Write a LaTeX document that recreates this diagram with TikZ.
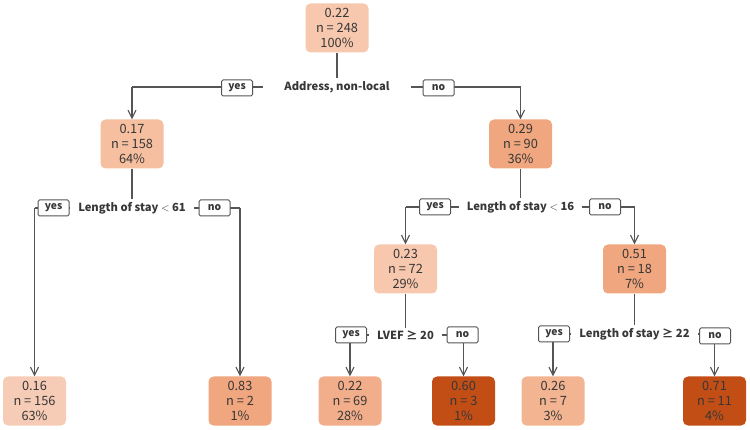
\documentclass[tikz,border=0pt]{standalone}
\usepackage{fontspec}
\usepackage{tikz}
\usepackage{xcolor}
\usetikzlibrary{arrows.meta, positioning, backgrounds}
\newfontfamily\jpfont{Noto Sans CJK JP}
\definecolor{textgray}{RGB}{55,55,55}
\definecolor{linegray}{RGB}{85,85,85}
\definecolor{pA}{RGB}{247,200,174}
\definecolor{pB}{RGB}{245,191,160}
\definecolor{pC}{RGB}{240,166,126}
\definecolor{pD}{RGB}{242,174,138}
\definecolor{pE}{RGB}{243,180,146}
\definecolor{pF}{RGB}{247,204,182}
\definecolor{pDark}{RGB}{194,78,22}

\begin{document}
\begin{tikzpicture}[
		x=1pt, y=-1pt,
		font=\jpfont, text=textgray,
		treebox/.style={rounded corners=5pt, minimum width=63pt, minimum height=49pt,
			inner sep=0pt, align=center, font=\jpfont\fontsize{12.8}{15}\selectfont},
		answer/.style={draw=linegray, fill=white, rounded corners=1.5pt, line width=1pt,
			minimum width=31pt, minimum height=16pt, inner sep=0pt,
			font=\jpfont\bfseries\fontsize{10.3}{11}\selectfont},
		rule/.style={fill=white, inner xsep=8pt, inner ysep=3pt,
			font=\jpfont\bfseries\fontsize{11.2}{12}\selectfont},
		edge/.style={draw=linegray, line width=1.1pt},
		arrow/.style={edge, -{Straight Barb[length=2.8mm, width=2.8mm]}}
	]
		\useasboundingbox (0,0) rectangle (750,430);
		% top split
		\node[treebox, fill=pA] (root) at (337,28) {0.22\\n = 248\\100\%};
		\node[rule, inner xsep=21pt] (addr) at (337,87) {Address, non-local};
		\node[answer] (yesA) at (237,88) {yes};
		\node[answer] (noA) at (438.5,88) {no};
		\node[treebox, fill=pB] (local) at (132,144) {0.17\\n = 158\\64\%};
		\node[treebox, fill=pC] (nonlocal) at (520.5,144) {0.29\\n = 90\\36\%};
		% left branch
		\node[rule] (stayA) at (132,208) {Length of stay $<$ 61};
		\node[answer] (yesB) at (53.5,208) {yes};
		\node[answer] (noB) at (214.5,208) {no};
		\node[treebox, fill=pF] (leafA) at (34.5,401) {0.16\\n = 156\\63\%};
		\node[treebox, fill=pC] (leafB) at (240,401) {0.83\\n = 2\\1\%};
		% right branch
		\node[rule] (stayB) at (520.5,207) {Length of stay $<$ 16};
		\node[answer] (yesC) at (435,207) {yes};
		\node[answer] (noC) at (605,207) {no};
		\node[treebox, fill=pA] (short) at (405.5,269) {0.23\\n = 72\\29\%};
		\node[treebox, fill=pC] (long) at (634.5,269) {0.51\\n = 18\\7\%};
		\node[rule] (lvef) at (405.5,335) {LVEF ≥ 20};
		\node[answer] (yesD) at (351,335) {yes};
		\node[answer] (noD) at (462.5,335) {no};
		\node[rule] (stayC) at (634.5,334) {Length of stay ≥ 22};
		\node[answer] (yesE) at (554,334) {yes};
		\node[answer] (noE) at (715,336) {no};
		\node[treebox, fill=pD] (leafC) at (350,401) {0.22\\n = 69\\28\%};
		\node[treebox, fill=pDark] (leafD) at (463.5,401) {0.60\\n = 3\\1\%};
		\node[treebox, fill=pE] (leafE) at (553,401) {0.26\\n = 7\\3\%};
		\node[treebox, fill=pDark] (leafF) at (714.5,401) {0.71\\n = 11\\4\%};

		\begin{scope}[on background layer]
			\foreach \p/\s/\l/\r in {root/addr/local/nonlocal, local/stayA/leafA/leafB,
					nonlocal/stayB/short/long, short/lvef/leafC/leafD, long/stayC/leafE/leafF} {
				\draw[edge] (\p.south) -- (\s.center);
				\draw[edge] (\l.north |- \s.center) -- (\r.north |- \s.center);
				\draw[arrow] (\l.north |- \s.center) -- (\l.north);
				\draw[arrow] (\r.north |- \s.center) -- (\r.north);
			}
		\end{scope}
	\end{tikzpicture}
\end{document}
